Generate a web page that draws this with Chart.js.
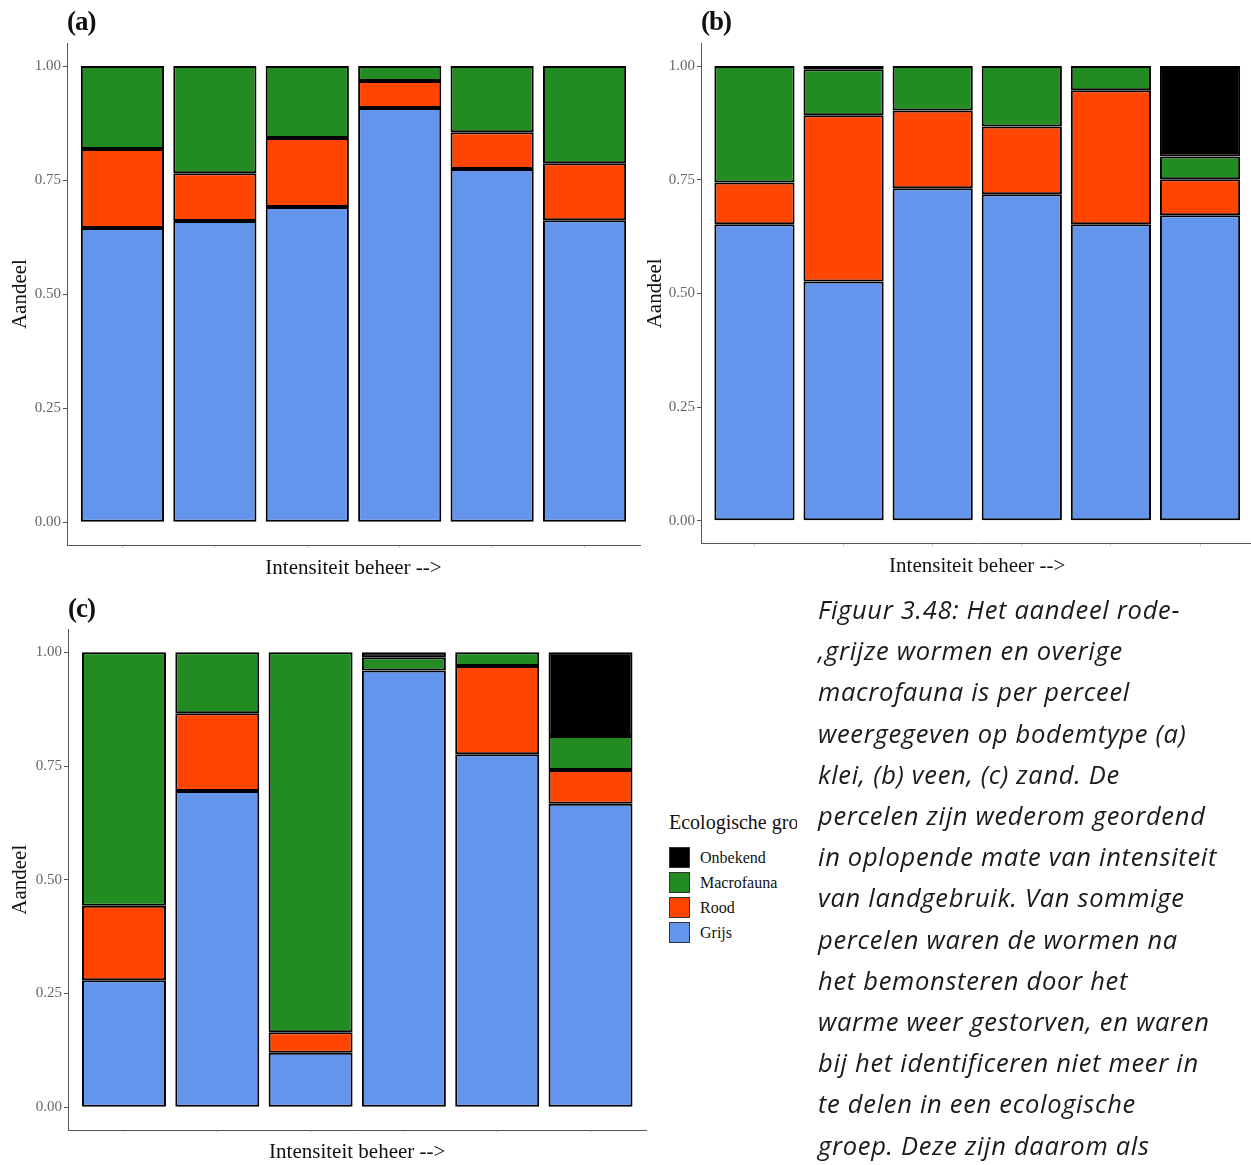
<!DOCTYPE html>
<html>
<head>
<meta charset="utf-8">
<script src="https://cdn.jsdelivr.net/npm/chart.js@4.4.0/dist/chart.umd.min.js"></script>
<style>
  body { margin: 0; width: 1251px; height: 1165px; overflow: hidden; background: #fff; position: relative; font-family: 'Liberation Serif', serif; }
  canvas { position: absolute; }
  .tag { position: absolute; font: bold 27px 'Liberation Serif', serif; color: #111; letter-spacing: -1px; }
  #legend { position: absolute; left: 669px; top: 811px; width: 128px; overflow: hidden; white-space: nowrap; color: #111; }
  #legend .ttl { font-size: 20px; height: 34px; }
  #legend .row { height: 25px; display: flex; align-items: center; font-size: 16px; }
  #legend .key { width: 19px; height: 19px; border: 1.5px solid #333; margin-right: 10px; }
  #caption { position: absolute; left: 818px; top: 589px; font: italic 25.5px 'Open Sans', sans-serif; letter-spacing: 0.7px; line-height: 41.2px; color: #1a1a1a; white-space: nowrap; }
</style>
</head>
<body>
<canvas id="chartA" width="645" height="590" style="left:0;top:0"></canvas>
<canvas id="chartB" width="616" height="590" style="left:640px;top:0"></canvas>
<canvas id="chartC" width="650" height="575" style="left:0;top:590px"></canvas>
<div class="tag" style="left:67px;top:6px">(a)</div>
<div class="tag" style="left:701px;top:6px">(b)</div>
<div class="tag" style="left:68px;top:593px">(c)</div>
<div id="legend"><div class="ttl">Ecologische groep</div></div>
<div id="caption">Figuur 3.48: Het aandeel rode-<br>,grijze wormen en overige<br>macrofauna is per perceel<br>weergegeven op bodemtype (a)<br>klei, (b) veen, (c) zand. De<br>percelen zijn wederom geordend<br>in oplopende mate van intensiteit<br>van landgebruik. Van sommige<br>percelen waren de wormen na<br>het bemonsteren door het<br>warme weer gestorven, en waren<br>bij het identificeren niet meer in<br>te delen in een ecologische<br>groep. Deze zijn daarom als</div>
<script>
// groups in stacking order (bottom to top)
const groups = ['Grijs', 'Rood', 'Macrofauna', 'Onbekend'];
const groupColors = ['#6495ED', '#FF4500', '#228B22', '#000000'];
const plots = [1, 2, 3, 4, 5, 6];
const yTicks = [0, 0.25, 0.5, 0.75, 1];

// (a) klei
const kleiGrijs = [0.645, 0.660, 0.691, 0.908, 0.774, 0.662];
const kleiRood = [0.173, 0.105, 0.151, 0.059, 0.081, 0.125];
const kleiMacro = [0.182, 0.235, 0.158, 0.033, 0.145, 0.213];
const kleiOnbekend = [0, 0, 0, 0, 0, 0];

// (b) veen
const veenGrijs = [0.652, 0.526, 0.731, 0.718, 0.652, 0.672];
const veenRood = [0.092, 0.366, 0.171, 0.149, 0.295, 0.079];
const veenMacro = [0.256, 0.101, 0.098, 0.133, 0.053, 0.050];
const veenOnbekend = [0, 0.007, 0, 0, 0, 0.199];

// (c) zand
const zandGrijs = [0.279, 0.695, 0.120, 0.960, 0.776, 0.667];
const zandRood = [0.164, 0.171, 0.045, 0, 0.194, 0.074];
const zandMacro = [0.557, 0.134, 0.835, 0.029, 0.030, 0.075];
const zandOnbekend = [0, 0, 0, 0.011, 0, 0.184];

const fontFamily = "'Liberation Serif', serif";

function makeChart(id, series, g) {
    new Chart(document.getElementById(id), {
        type: 'bar',
        data: {
            datasets: series.map((vals, i) => ({
                label: groups[i],
                data: plots.map((p, j) => ({ x: p, y: vals[j] })),
                backgroundColor: groupColors[i],
                borderColor: '#000',
                borderWidth: 2,
                borderSkipped: false,
                categoryPercentage: 1,
                barPercentage: 0.9
            }))
        },
        options: {
            responsive: false,
            animation: false,
            layout: { padding: { top: g.top, right: g.right, left: 0, bottom: 0 } },
            plugins: { legend: { display: false }, tooltip: { enabled: false } },
            scales: {
                x: {
                    type: 'linear',
                    stacked: true,
                    offset: false,
                    min: 0.4,
                    max: 6.6,
                    afterBuildTicks: s => { s.ticks = plots.map(v => ({ value: v })); },
                    ticks: { display: false },
                    grid: { offset: false, drawOnChartArea: false, color: '#d0d0d0', tickLength: 3 },
                    border: { color: '#555', width: 1 },
                    title: {
                        display: true,
                        text: 'Intensiteit beheer -->',
                        color: '#111',
                        font: { family: fontFamily, size: 21 },
                        padding: { top: 0, bottom: g.xTitlePad }
                    },
                    afterFit: s => { s.height = g.xAxisH; }
                },
                y: {
                    stacked: true,
                    min: -0.05,
                    max: 1.05,
                    afterBuildTicks: s => { s.ticks = yTicks.map(v => ({ value: v })); },
                    ticks: {
                        callback: v => v.toFixed(2),
                        color: '#666',
                        font: { family: fontFamily, size: 15 },
                        padding: 2
                    },
                    grid: { drawOnChartArea: false, color: '#555', tickLength: 4 },
                    border: { color: '#555', width: 1 },
                    title: {
                        display: true,
                        text: 'Aandeel',
                        color: '#111',
                        font: { family: fontFamily, size: 21 },
                        padding: { top: g.yTitlePad, bottom: 0 }
                    },
                    afterFit: s => { s.width = g.yAxisW; }
                }
            }
        }
    });
}

makeChart('chartA', [kleiGrijs, kleiRood, kleiMacro, kleiOnbekend],
    { top: 43.2, right: 5, xAxisH: 45, yAxisW: 67, xTitlePad: 9.4, yTitlePad: 7.4 });
makeChart('chartB', [veenGrijs, veenRood, veenMacro, veenOnbekend],
    { top: 43.3, right: 2.5, xAxisH: 46.6, yAxisW: 61, xTitlePad: 11.4, yTitlePad: 2.4 });
makeChart('chartC', [zandGrijs, zandRood, zandMacro, zandOnbekend],
    { top: 39.5, right: 3.5, xAxisH: 35, yAxisW: 68, xTitlePad: 0, yTitlePad: 7.4 });

// legend, top group first
const legend = document.getElementById('legend');
for (let i = groups.length - 1; i >= 0; i--) {
    const row = document.createElement('div');
    row.className = 'row';
    row.innerHTML = '<span class="key" style="background:' + groupColors[i] + '"></span>' + groups[i];
    legend.appendChild(row);
}
</script>
</body>
</html>
